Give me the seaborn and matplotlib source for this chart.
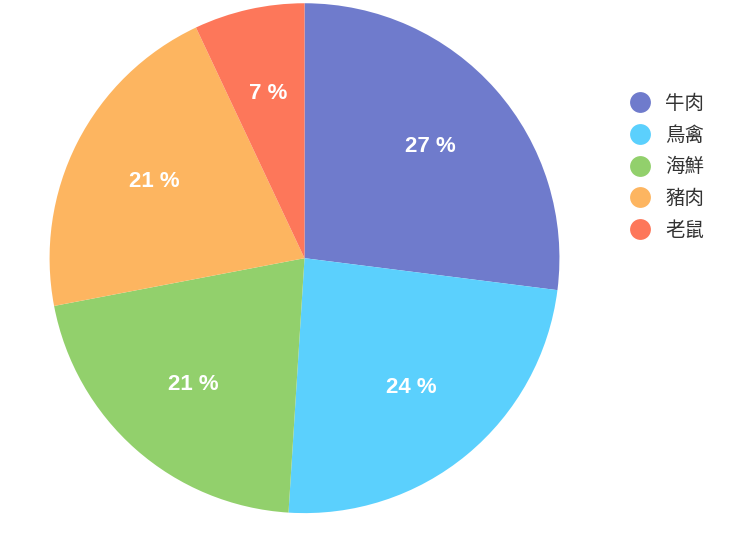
import matplotlib
matplotlib.use("Agg")
import matplotlib.pyplot as plt
from matplotlib.lines import Line2D
import seaborn as sns

labels = ["牛肉", "鳥禽", "海鮮", "豬肉", "老鼠"]
values = [27, 24, 21, 21, 7]
colors = ["#6f7bcc", "#5bd0fd", "#92d06c", "#fdb560", "#fd775a"]

sns.set_style("white")
plt.rcParams['font.family'] = ['Noto Sans CJK TC', 'DejaVu Sans']

fig = plt.figure(figsize=(7.4, 5.39), dpi=100)
ax = fig.add_axes([0.067, 0.048, 0.689, 0.946])
wedges, texts, autotexts = ax.pie(
    values, colors=colors, startangle=90, counterclock=False,
    autopct=lambda p: f"{p:.0f} %", pctdistance=0.66,
    wedgeprops=dict(linewidth=0),
    textprops=dict(color="white", fontsize=16, fontweight="semibold",
                   family=['Liberation Sans', 'DejaVu Sans']))
ax.set_xlim(-1, 1)
ax.set_ylim(-1, 1)
ax.set_aspect("equal")

handles = [Line2D([0], [0], marker="o", linestyle="", markersize=15,
                  markerfacecolor=c, markeredgewidth=0) for c in colors]
fig.legend(handles, labels, loc="upper left", bbox_to_anchor=(0.815, 0.86),
           frameon=False, fontsize=14, labelspacing=0.55, handletextpad=0.3,
           labelcolor="#333333")

fig.savefig("out.png", dpi=100)
